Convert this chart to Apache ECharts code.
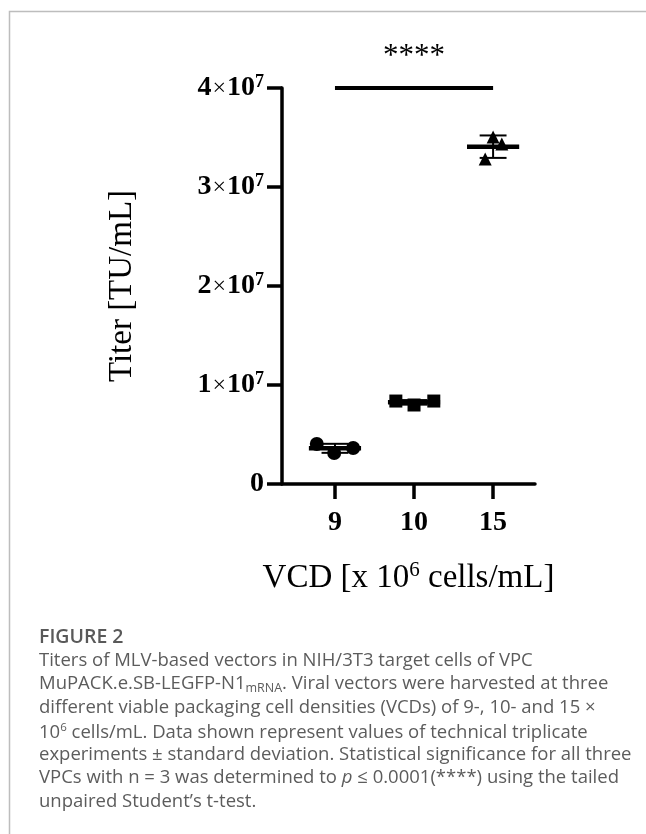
<!DOCTYPE html>
<html>
<head>
<meta charset="utf-8">
<script src="https://cdn.jsdelivr.net/npm/echarts@6/dist/echarts.min.js"></script>
<style>
  html, body { margin: 0; padding: 0; background: #fff; }
  #cht { width: 646px; height: 834px; }
</style>
</head>
<body>
<div id="cht"></div>
<script>
// VCD groups (x 10^6 cells/mL)
var categories = ['9', '10', '15'];
// titer per replicate [TU/mL]
var titer9 = [4.04e6, 3.13e6, 3.64e6];
var titer10 = [8.38e6, 7.98e6, 8.38e6];
var titer15 = [3.505e7, 3.434e7, 3.283e7];
// horizontal scatter of each replicate around its group (in category units)
var jitter9 = [-0.23, -0.01, 0.23];
var jitter10 = [-0.23, 0, 0.25];
var jitter15 = [0, 0.11, -0.10];
var yTicks = [0, 1e7, 2e7, 3e7, 4e7];
var sigLabel = '****';

var groups = [
    {vals: titer9, jit: jitter9, symbol: 'circle', size: 14},
    {vals: titer10, jit: jitter10, symbol: 'rect', size: 13},
    {vals: titer15, jit: jitter15, symbol: 'triangle', size: 13}
];

function mean(a) { return a.reduce(function (s, v) { return s + v; }, 0) / a.length; }
function sd(a) {
    var m = mean(a);
    return Math.sqrt(a.reduce(function (s, v) { return s + (v - m) * (v - m); }, 0) / (a.length - 1));
}

var summary = groups.map(function (g, i) { return [i, mean(g.vals), sd(g.vals)]; });

var serif = '"Liberation Serif", "DejaVu Serif", serif';
var capFont = '"Open Sans", "Noto Sans", sans-serif';
var capColor = '#5c5c5c';

function yLabel(v) {
    if (v === 0) return '{n|0}';
    var e = Math.floor(Math.log10(v) + 1e-9);
    var m = Math.round(v / Math.pow(10, e));
    return '{n|' + m + '}{x|×}{n|10}{s|' + e + '}';
}

var captionLines = [
    'Titers of MLV-based vectors in NIH/3T3 target cells of VPC',
    'MuPACK.e.SB-LEGFP-N1{sub|mRNA}. Viral vectors were harvested at three',
    'different viable packaging cell densities (VCDs) of 9-, 10- and 15 ×',
    '10{sup|6} cells/mL. Data shown represent values of technical triplicate',
    'experiments ± standard deviation. Statistical significance for all three',
    'VPCs with n = 3 was determined to {i|p} ≤ 0.0001(****) using the tailed',
    'unpaired Student’s t-test.'
];

var capRich = {
    sub: {fontSize: 12.5, fontFamily: capFont, color: capColor, verticalAlign: 'bottom', lineHeight: 22},
    sup: {fontSize: 11.5, fontFamily: capFont, color: capColor, verticalAlign: 'top', lineHeight: 22},
    i: {fontSize: 18.5, fontFamily: capFont, fontStyle: 'italic', color: capColor}
};

var graphics = [
    {type: 'polyline', silent: true, shape: {points: [[9.5, 834], [9.5, 11.5], [646, 11.5]]},
        style: {stroke: '#bdbdbd', lineWidth: 1.5, fill: null}},
    {type: 'text', left: 39, top: 627, silent: true,
        style: {text: 'FIGURE 2', font: '600 19.5px ' + capFont, fill: '#595959'}}
];
captionLines.forEach(function (t, i) {
    graphics.push({
        type: 'text', left: 39, top: 651 + i * 23.5, silent: true,
        style: {text: t, fontSize: 18.5, fontFamily: capFont, fill: capColor, rich: capRich}
    });
});

var series = [{
    type: 'custom',
    z: 3,
    data: summary,
    renderItem: function (params, api) {
        var x = api.value(0), m = api.value(1), s = api.value(2);
        var ml = api.coord([x - 0.33, m]), mr = api.coord([x + 0.33, m]);
        var top = api.coord([x, m + s]), bot = api.coord([x, m - s]);
        var tl = api.coord([x - 0.17, m + s]), tr = api.coord([x + 0.17, m + s]);
        var bl = api.coord([x - 0.17, m - s]), br = api.coord([x + 0.17, m - s]);
        var st = {stroke: '#000', lineWidth: 2};
        return {type: 'group', children: [
            {type: 'line', shape: {x1: top[0], y1: top[1], x2: bot[0], y2: bot[1]}, style: st},
            {type: 'line', shape: {x1: tl[0], y1: tl[1], x2: tr[0], y2: tr[1]}, style: st},
            {type: 'line', shape: {x1: bl[0], y1: bl[1], x2: br[0], y2: br[1]}, style: st},
            {type: 'line', shape: {x1: ml[0], y1: ml[1], x2: mr[0], y2: mr[1]}, style: {stroke: '#000', lineWidth: 4.5}}
        ]};
    }
}];

groups.forEach(function (g, gi) {
    var s = {
        type: 'scatter',
        z: 4,
        symbol: g.symbol,
        symbolSize: g.size,
        itemStyle: {color: '#000', opacity: 1},
        data: g.vals.map(function (v, i) { return [gi + g.jit[i], v]; })
    };
    if (gi === 0) {
        s.markLine = {
            silent: true,
            symbol: ['none', 'none'],
            lineStyle: {color: '#000', width: 4, type: 'solid'},
            label: {show: true, position: 'middle', formatter: sigLabel, fontSize: 31,
                fontFamily: serif, color: '#000', distance: 16},
            data: [[{coord: [0, yTicks[yTicks.length - 1]]}, {coord: [2, yTicks[yTicks.length - 1]]}]]
        };
    }
    series.push(s);
});

var config = {
    animation: false,
    backgroundColor: '#fff',
    grid: {left: 282, top: 88, width: 253, height: 396, outerBoundsMode: 'none', containLabel: false},
    xAxis: {
        type: 'value',
        min: -0.67,
        max: 2.53,
        splitLine: {show: false},
        axisLine: {show: true, onZero: false, lineStyle: {color: '#000', width: 3.5}},
        axisTick: {show: true, customValues: [0, 1, 2], length: 15, lineStyle: {color: '#000', width: 3.5}},
        axisLabel: {
            customValues: [0, 1, 2],
            margin: 25,
            fontFamily: serif, fontWeight: 'bold', fontSize: 28, color: '#000',
            formatter: function (v) { return categories[Math.round(v)]; }
        },
        name: '{a|VCD [x 10}{s|6}{a| cells/mL]}',
        nameLocation: 'middle',
        nameGap: 76,
        nameTextStyle: {
            rich: {
                a: {fontFamily: serif, fontSize: 33, color: '#000', lineHeight: 36},
                s: {fontFamily: serif, fontSize: 21, color: '#000', verticalAlign: 'top', lineHeight: 36}
            }
        }
    },
    yAxis: {
        type: 'value',
        min: yTicks[0],
        max: yTicks[yTicks.length - 1],
        interval: yTicks[1] - yTicks[0],
        splitLine: {show: false},
        axisLine: {show: true, onZero: false, lineStyle: {color: '#000', width: 3.5}},
        axisTick: {show: true, length: 15, lineStyle: {color: '#000', width: 3.5}},
        axisLabel: {
            margin: 18,
            formatter: yLabel,
            rich: {
                n: {fontFamily: serif, fontWeight: 'bold', fontSize: 28, color: '#000', lineHeight: 30},
                x: {fontFamily: serif, fontSize: 24, color: '#000', lineHeight: 30, padding: [2, 1, 0, 1]},
                s: {fontFamily: serif, fontWeight: 'bold', fontSize: 18, color: '#000', verticalAlign: 'top', lineHeight: 30}
            }
        },
        name: 'Titer [TU/mL]',
        nameLocation: 'middle',
        nameGap: 143,
        nameTextStyle: {fontFamily: serif, fontSize: 33, color: '#000'}
    },
    graphic: graphics,
    series: series
};

window.onload = function () {
    var myChart = echarts.init(document.getElementById('cht'));
    myChart.setOption(config);
};
</script>
</body>
</html>
